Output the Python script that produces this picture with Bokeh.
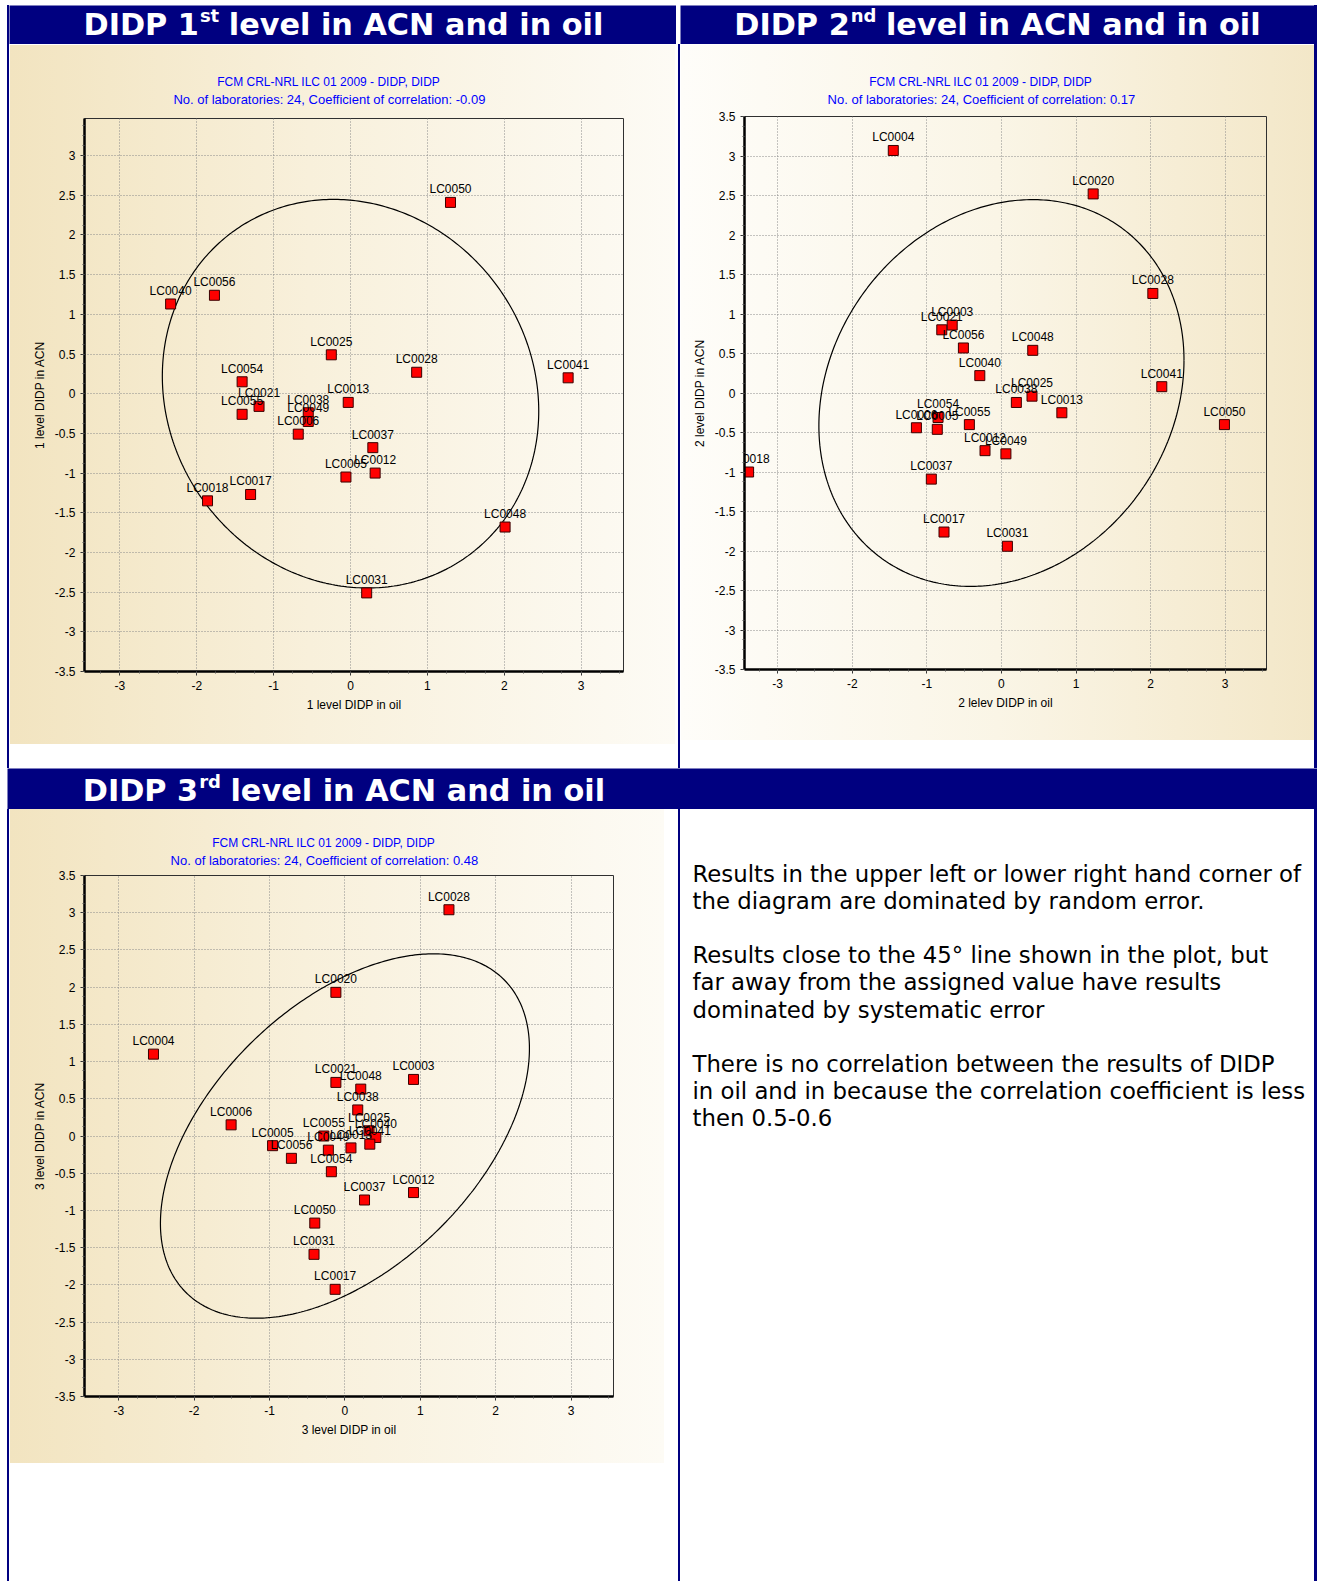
import numpy as np
from bokeh.plotting import figure
from bokeh.models import Range1d, Title, Spacer, SingleIntervalTicker, NumeralTickFormatter
from bokeh.layouts import row, column
from bokeh.embed import file_html
from bokeh.resources import INLINE
from bokeh.core.properties import value

# ------------------------------------------------------------------ data
p1_labs = ["LC0050", "LC0056", "LC0040", "LC0025", "LC0028", "LC0041", "LC0054",
           "LC0021", "LC0055", "LC0013", "LC0038", "LC0049", "LC0006", "LC0037",
           "LC0012", "LC0005", "LC0017", "LC0018", "LC0048", "LC0031"]
p1_oil = [1.30, -1.77, -2.34, -0.25, 0.86, 2.83, -1.41, -1.19, -1.41, -0.03,
          -0.55, -0.55, -0.68, 0.29, 0.32, -0.06, -1.30, -1.86, 2.01, 0.21]
p1_acn = [2.41, 1.24, 1.13, 0.49, 0.27, 0.20, 0.15, -0.16, -0.26, -0.11,
          -0.24, -0.35, -0.51, -0.68, -1.00, -1.05, -1.27, -1.35, -1.68, -2.51]
p1_r = -0.09

p2_labs = ["LC0004", "LC0020", "LC0028", "LC0041", "LC0050", "LC0018", "LC0048",
           "LC0003", "LC0021", "LC0056", "LC0040", "LC0025", "LC0038", "LC0013",
           "LC0054", "LC0006", "LC0005", "LC0055", "LC0012", "LC0049", "LC0037",
           "LC0017", "LC0031"]
p2_oil = [-1.45, 1.23, 2.03, 2.15, 2.99, -3.39, 0.42, -0.66, -0.80, -0.51, -0.29,
          0.41, 0.20, 0.81, -0.85, -1.14, -0.86, -0.43, -0.22, 0.06, -0.94, -0.77, 0.08]
p2_acn = [3.07, 2.52, 1.26, 0.08, -0.40, -1.00, 0.54, 0.86, 0.80, 0.57, 0.22,
          -0.04, -0.12, -0.25, -0.31, -0.44, -0.46, -0.40, -0.73, -0.77, -1.09, -1.76, -1.94]
p2_r = 0.17

p3_labs = ["LC0028", "LC0020", "LC0004", "LC0003", "LC0021", "LC0048", "LC0038",
           "LC0006", "LC0055", "LC0025", "LC0040", "LC0041", "LC0005", "LC0056",
           "LC0049", "LC0013", "LC0054", "LC0037", "LC0012", "LC0050", "LC0031", "LC0017"]
p3_oil = [1.38, -0.12, -2.54, 0.91, -0.12, 0.21, 0.17, -1.51, -0.28, 0.32, 0.41,
          0.33, -0.96, -0.71, -0.22, 0.08, -0.18, 0.26, 0.91, -0.40, -0.41, -0.13]
p3_acn = [3.04, 1.93, 1.10, 0.76, 0.72, 0.63, 0.35, 0.15, 0.00, 0.07, -0.02,
          -0.11, -0.13, -0.30, -0.19, -0.16, -0.48, -0.86, -0.76, -1.17, -1.59, -2.06]
p3_r = 0.48

ELLIPSE_K = 2.4477   # sqrt of chi-square(0.95, 2 dof)

sub_line1 = "FCM CRL-NRL ILC 01 2009 - DIDP, DIDP"
p1_sub2 = "No. of laboratories: 24, Coefficient of correlation: -0.09"
p2_sub2 = "No. of laboratories: 24, Coefficient of correlation: 0.17"
p3_sub2 = "No. of laboratories: 24, Coefficient of correlation: 0.48"

p1_xlabel, p1_ylabel = "1 level DIDP in oil", "1 level DIDP in ACN"
p2_xlabel, p2_ylabel = "2 lelev DIDP in oil", "2 level DIDP in ACN"
p3_xlabel, p3_ylabel = "3 level DIDP in oil", "3 level DIDP in ACN"

title1 = ("DIDP 1", "st", "level in ACN and in oil")
title2 = ("DIDP 2", "nd", "level in ACN and in oil")
title3 = ("DIDP 3", "rd", "level in ACN and in oil")

note_lines = [
    "Results in the upper left or lower right hand corner of",
    "the diagram are dominated by random error.",
    "",
    "Results close to the 45\u00b0 line shown in the plot, but",
    "far away from the assigned value have results",
    "dominated by systematic error",
    "",
    "There is no correlation between the results of DIDP",
    "in oil and in because the correlation coefficient is less",
    "then 0.5-0.6",
]

# ------------------------------------------------------------------ styles
NAVY = "#000080"
GRAD_LR = "linear-gradient(to right, #f2e4c0 0%, #f8f0db 45%, #fdfbf5 100%)"
GRAD_RL = "linear-gradient(to right, #fefdf9 0%, #faf5e6 50%, #f3e7c8 100%)"
ARIAL = value("Liberation Sans")

# approximate Arial advance widths (em) used to centre the sub-titles
AW = {"F": .611, "C": .722, "M": .833, " ": .278, "R": .722, "L": .556, "-": .333,
      "N": .722, "I": .278, "D": .722, "P": .667, ",": .278, ".": .278, "o": .556,
      "f": .278, "l": .222, "a": .556, "b": .556, "r": .333, "t": .278, "i": .222,
      "e": .556, "s": .5, ":": .278, "c": .5, "n": .556}


def text_w(s, size):
    return sum(AW.get(c, .556) for c in s) * size


def nav(w, h):
    return Spacer(width=w, height=h, styles={"background-color": NAVY})


def gap(w, h):
    return Spacer(width=w, height=h)


def plain_fig(w, h, bg):
    p = figure(width=w, height=h, x_range=Range1d(0, w), y_range=Range1d(h, 0),
               x_axis_type=None, y_axis_type=None, min_border=0,
               output_backend="svg", toolbar_location=None)
    p.outline_line_color = None
    p.background_fill_color = bg
    p.border_fill_color = bg
    p.grid.visible = False
    return p


def title_bar(w, h, cx, parts, sup_em, mid, sup_mid, F=30.3, S=18):
    main, sup, rest = parts
    main_w = 3.803 * F
    sup_w = sup_em * S
    sp = 0.348 * F
    rest_w = 12.362 * F
    x0 = cx - (main_w + sup_w + sp + rest_w) / 2
    xs = x0 + main_w
    p = plain_fig(w, h, NAVY)
    font = value("DejaVu Sans")
    kw = dict(text_baseline="middle", text_font=font, text_font_style="bold", text_color="white")
    p.text(x=[xs], y=[mid], text=[main], text_align="right", text_font_size=f"{F}px", **kw)
    p.text(x=[xs + 1], y=[sup_mid], text=[sup], text_align="left", text_font_size=f"{S}px", **kw)
    p.text(x=[xs + sup_w + sp], y=[mid], text=[rest], text_align="left",
           text_font_size=f"{F}px", **kw)
    return p


def panel(w, h, mb, xr, yr, labs, xs, ys, r, xlabel, ylabel, sub2, sub_cx, sub_gap, grad):
    p = figure(width=w, height=h, x_range=Range1d(*xr), y_range=Range1d(*yr),
               min_border_left=mb[0], min_border_right=mb[1],
               min_border_top=mb[2], min_border_bottom=mb[3],
               output_backend="svg", toolbar_location=None,
               styles={"background": grad})
    p.background_fill_alpha = 0
    p.border_fill_alpha = 0
    p.outline_line_color = "#303030"
    p.outline_line_width = 1

    p.xaxis.ticker = SingleIntervalTicker(interval=1, num_minor_ticks=4)
    p.yaxis.ticker = SingleIntervalTicker(interval=0.5, num_minor_ticks=4)
    p.xgrid.ticker = SingleIntervalTicker(interval=1)
    p.ygrid.ticker = SingleIntervalTicker(interval=0.5)
    for ax in (p.xaxis[0], p.yaxis[0]):
        ax.formatter = NumeralTickFormatter(format="0.[0]")
        ax.axis_line_width = 2.5
        ax.axis_line_color = "black"
        ax.major_tick_out = 4
        ax.major_tick_in = 0
        ax.minor_tick_out = 2
        ax.minor_tick_in = 0
        ax.major_tick_line_color = "#333333"
        ax.minor_tick_line_color = "#555555"
        ax.major_label_text_font = "Liberation Sans"
        ax.major_label_text_font_size = "12px"
        ax.major_label_text_color = "black"
        ax.axis_label_text_font = "Liberation Sans"
        ax.axis_label_text_font_size = "12px"
        ax.axis_label_text_font_style = "normal"
        ax.axis_label_text_color = "black"
    p.xaxis.axis_label = xlabel
    p.yaxis.axis_label = ylabel
    p.grid.grid_line_color = "#8a8a8a"
    p.grid.grid_line_dash = "1 2"
    p.grid.grid_line_width = 1

    t = np.linspace(0, 2 * np.pi, 400)
    ex = ELLIPSE_K * np.cos(t)
    ey = ELLIPSE_K * (r * np.cos(t) + np.sqrt(1 - r * r) * np.sin(t))
    p.line(ex, ey, line_color="black", line_width=1.2)

    p.scatter(xs, ys, marker="square", size=10, fill_color="#ff0000",
              line_color="#3a0000", line_width=1)
    p.text(xs, ys, text=labs, text_align="center", text_baseline="middle",
           y_offset=-13, text_font=ARIAL, text_font_size="12px", text_color="black")

    # sub-titles, centred at sub_cx pixels right of the frame's left edge
    p.add_layout(Title(text=" ", text_font_size="4px", standoff=sub_gap), "above")
    for txt, fs, so in ((sub2, 13, 0), (sub_line1, 12, 2)):
        p.add_layout(Title(text=txt, align="left", offset=sub_cx - text_w(txt, fs) / 2,
                           standoff=so, text_font="Liberation Sans",
                           text_font_size=f"{fs}px", text_font_style="normal",
                           text_color="#0000ff"), "above")
    return p


# ------------------------------------------------------------------ figures
fig1 = panel(665, 699, (74, 52, 73, 73), (-3.46, 3.55), (-3.5, 3.467),
             p1_labs, p1_oil, p1_acn, p1_r, p1_xlabel, p1_ylabel, p1_sub2, 245, 5, GRAD_LR)
fig2 = panel(633, 695, (63, 48, 71, 71), (-3.445, 3.554), (-3.5, 3.5),
             p2_labs, p2_oil, p2_acn, p2_r, p2_xlabel, p2_ylabel, p2_sub2, 237, 3, GRAD_RL)
fig3 = panel(654, 654, (74, 51, 66, 67), (-3.455, 3.563), (-3.5, 3.5),
             p3_labs, p3_oil, p3_acn, p3_r, p3_xlabel, p3_ylabel, p3_sub2, 240, 1, GRAD_LR)

tb1 = title_bar(667, 39, 334, title1, 1.073, 19, 10)
tb2 = title_bar(634, 39, 317, title2, 1.428, 19, 10)
tb3 = title_bar(1310, 41, 336.5, title3, 1.209, 22, 13)

ROW3_H = 772
txt = plain_fig(634, ROW3_H, "white")
lh = 27.2
ly = [64 + i * lh for i, s in enumerate(note_lines) if s]
lt = [s for s in note_lines if s]
txt.text(x=[12] * len(lt), y=ly, text=lt, text_align="left", text_baseline="middle",
         text_font=value("DejaVu Sans"), text_font_size="22.8px", text_color="black")

col1 = column(row(tb1, gap(2, 39)),
              row(gap(1, 724), column(gap(665, 1), fig1, gap(665, 24)), gap(3, 724)))
div1 = column(gap(2, 39), nav(2, 724))
col2 = column(tb2, row(gap(1, 724), column(gap(633, 1), fig2, gap(633, 28))))
row1 = row(nav(2, 763), col1, div1, col2, nav(3, 763))

col3 = column(row(gap(1, 654), fig3, gap(14, 654)), gap(669, ROW3_H - 654))
row3 = row(nav(2, ROW3_H), col3, nav(2, ROW3_H), txt, nav(3, ROW3_H))

root = column(row1, tb3, row3, styles={"margin-top": "5px", "margin-left": "7px"})

open("out.html", "w").write(file_html(root, INLINE))
